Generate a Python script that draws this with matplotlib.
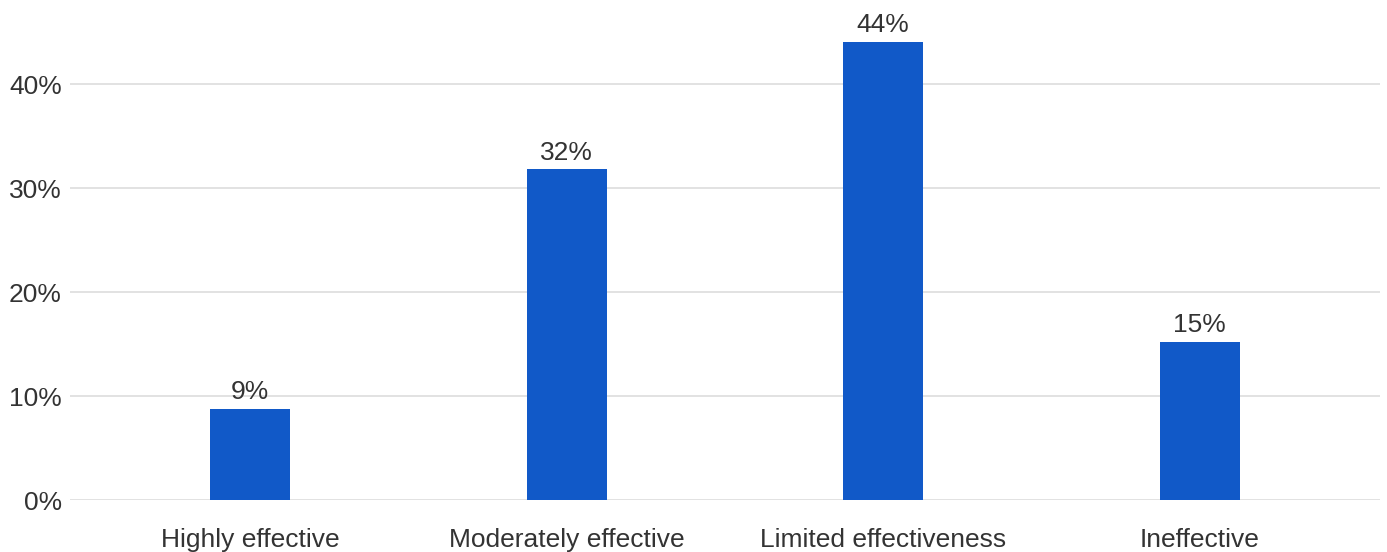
import matplotlib
matplotlib.use("Agg")
import matplotlib.pyplot as plt
import numpy as np

plt.rcParams['font.family'] = ['Liberation Sans', 'DejaVu Sans']

categories = ["Highly effective", "Moderately effective", "Limited effectiveness", "Ineffective"]
shares = [8.8, 31.8, 44.1, 15.2]
value_labels = ["9%", "32%", "44%", "15%"]
y_ticks = [0, 10, 20, 30, 40]
y_tick_labels = ["0%", "10%", "20%", "30%", "40%"]

BAR_COLOR = "#1159C8"
TEXT_COLOR = "#333333"
FS = 19

fig = plt.figure(figsize=(13.87, 5.52), dpi=100)
ax = fig.add_axes([70 / 1387, 52 / 552, 1310 / 1387, 500 / 552])

x = np.arange(len(categories))
bars = ax.bar(x, shares, width=0.253, color=BAR_COLOR, zorder=3)

# value labels above each bar
for rect, lab in zip(bars, value_labels):
    ax.annotate(lab, (rect.get_x() + rect.get_width() / 2, rect.get_height()),
                xytext=(0, 7), textcoords="offset points", ha="center", va="baseline",
                fontsize=FS, color=TEXT_COLOR, annotation_clip=False)

ax.set_xlim(-0.57, 3.57)
ax.set_ylim(0, 48.1)
ax.set_xticks(x)
ax.set_xticklabels(categories, fontsize=FS, color=TEXT_COLOR)
ax.set_yticks(y_ticks)
ax.set_yticklabels(y_tick_labels, fontsize=FS, color=TEXT_COLOR)
ax.tick_params(axis="both", length=0)
ax.tick_params(axis="x", pad=20)
ax.tick_params(axis="y", pad=6)

ax.grid(axis="y", color="#e2e2e2", linewidth=1.4, zorder=0)
for side in ax.spines.values():
    side.set_visible(False)

fig.savefig("out.png", dpi=100)
